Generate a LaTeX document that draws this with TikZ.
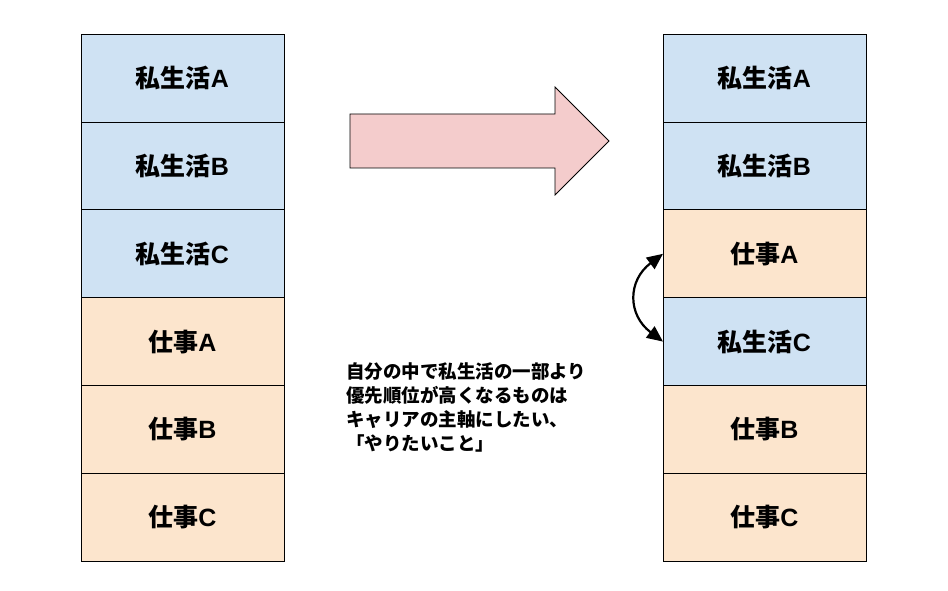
\documentclass[tikz,border=0pt]{standalone}
\usepackage{fontspec}
\setmainfont{Liberation Sans}
\newfontfamily\cjk{Noto Sans CJK JP}
\usetikzlibrary{positioning,arrows.meta}
\definecolor{lifeblue}{HTML}{CFE2F3}
\definecolor{workpeach}{HTML}{FCE5CD}
\definecolor{shiftpink}{HTML}{F4CCCC}
\tikzset{
  slot/.style={draw=black, line width=0.9pt, minimum width=203pt, minimum height=87.8pt,
    outer sep=0pt, inner sep=0pt, font=\fontsize{25}{29}\selectfont\bfseries},
  life/.style={slot, fill=lifeblue},
  work/.style={slot, fill=workpeach}
}
\begin{document}
\begin{tikzpicture}[x=1pt, y=1pt]
  \useasboundingbox (0,0) rectangle (948,-591);

  % before
  \node[life] (lA) at (182.5,-78.2) {{\cjk 私生活}A};
  \node[life, below=0pt of lA] (lB) {{\cjk 私生活}B};
  \node[life, below=0pt of lB] (lC) {{\cjk 私生活}C};
  \node[work, below=0pt of lC] (wA) {{\cjk 仕事}A};
  \node[work, below=0pt of wA] (wB) {{\cjk 仕事}B};
  \node[work, below=0pt of wB] (wC) {{\cjk 仕事}C};

  % after
  \node[life] (rlA) at (764.5,-78.2) {{\cjk 私生活}A};
  \node[life, below=0pt of rlA] (rlB) {{\cjk 私生活}B};
  \node[work, below=0pt of rlB] (rwA) {{\cjk 仕事}A};
  \node[life, below=0pt of rwA] (rlC) {{\cjk 私生活}C};
  \node[work, below=0pt of rlC] (rwB) {{\cjk 仕事}B};
  \node[work, below=0pt of rwB] (rwC) {{\cjk 仕事}C};

  \draw[fill=shiftpink, line width=0.8pt]
    (350,-114) -- (555,-114) -- (555,-87) -- (609,-141)
    -- (555,-195) -- (555,-168) -- (350,-168) -- cycle;

  \draw[{Triangle[length=16pt,width=14pt]}-{Triangle[length=16pt,width=14pt]}, line width=2.2pt]
    (rwA.west) to[out=217, in=143, looseness=1.3] (rlC.west);

  \node[anchor=north west, align=left, inner sep=0pt,
    font=\cjk\fontsize{18.5}{24}\selectfont\bfseries] (note) at (346,-362)
    {自分の中で私生活の一部より\\優先順位が高くなるものは\\キャリアの主軸にしたい、\\「やりたいこと」};
\end{tikzpicture}
\end{document}
